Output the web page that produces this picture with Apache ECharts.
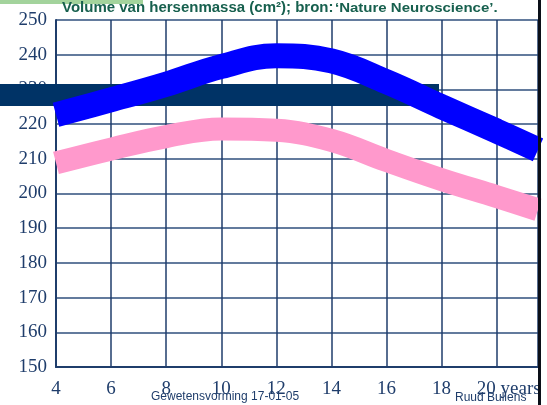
<!DOCTYPE html>
<html>
<head>
<meta charset="utf-8">
<script src="https://cdn.jsdelivr.net/npm/echarts@6/dist/echarts.min.js"></script>
<style>
  html, body { margin: 0; padding: 0; background: #fff; }
  #chart { width: 547px; height: 405px; }
</style>
</head>
<body>
<div id="chart"></div>
<script>
const ages = [4, 6, 8, 10, 12, 14, 16, 18, 20, 21.5];
const blueVolume = [222.7, 227.0, 231.5, 236.6, 239.7, 238.2, 232.2, 225.0, 218.0, 212.6];
const pinkVolume = [208.8, 212.8, 216.4, 218.6, 218.2, 215.3, 209.5, 204.0, 199.1, 195.3];
const yTicks = { min: 150, max: 250, step: 10 };
const xTicks = { min: 4, max: 21.5, step: 2 };

const navy = '#1f3d6b';
const serif = 'Liberation Serif, Times New Roman, serif';
const sans = 'Liberation Sans, Arial, sans-serif';

const chart = echarts.init(document.getElementById('chart'));

chart.setOption({
  animation: false,
  grid: { left: 56, right: 9, top: 20, bottom: 38 },
  xAxis: {
    type: 'value',
    min: xTicks.min,
    max: xTicks.max,
    interval: xTicks.step,
    axisLine: { lineStyle: { color: navy, width: 2 } },
    axisTick: { show: false },
    splitLine: { lineStyle: { color: navy, width: 1.5 } },
    axisLabel: {
      margin: 13,
      showMaxLabel: false,
      fontFamily: serif,
      fontSize: 19,
      color: navy,
      formatter: (v) => (v === 20 ? '{last|20 years}' : String(v)),
      rich: { last: { fontFamily: serif, fontSize: 19, color: navy, padding: [0, 0, 0, 24] } },
    },
  },
  yAxis: {
    type: 'value',
    min: yTicks.min,
    max: yTicks.max,
    interval: yTicks.step,
    axisLine: { show: true, lineStyle: { color: navy, width: 2 } },
    axisTick: { show: false },
    splitLine: { lineStyle: { color: '#2f4f7c', width: 1.6 } },
    axisLabel: { margin: 9, fontFamily: serif, fontSize: 19, color: navy },
  },
  series: [
    {
      type: 'line',
      data: ages.map((a, i) => [a, blueVolume[i]]),
      smooth: 0.4,
      symbol: 'none',
      clip: false,
      z: 4,
      lineStyle: { color: '#0000ff', width: 25, cap: 'butt' },
    },
    {
      type: 'line',
      data: ages.map((a, i) => [a, pinkVolume[i]]),
      smooth: 0.4,
      symbol: 'none',
      clip: false,
      z: 4,
      lineStyle: { color: '#ff99cc', width: 23, cap: 'butt' },
    },
  ],
  graphic: [
    { type: 'rect', z: 3, shape: { x: 0, y: 84, width: 439, height: 22 }, style: { fill: '#003366' } },
    { type: 'rect', z: 3, shape: { x: 0, y: 0, width: 143, height: 4 }, style: { fill: '#a3d39c' } },
    { type: 'rect', z: 5, shape: { x: 538, y: 0, width: 3, height: 405 }, style: { fill: '#0a0f18' } },
    {
      type: 'text', z: 5, left: 62, top: 0,
      style: { text: 'Volume van hersenmassa (cm²); bron:', font: 'bold 15px ' + sans, fill: '#17604e' },
    },
    {
      type: 'text', z: 5, x: 335, y: 3, scaleX: 1.25,
      style: { text: '‘Nature Neuroscience’.', font: 'bold 12px ' + sans, fill: '#17604e' },
    },
    {
      type: 'text', z: 5, left: 151, top: 391,
      style: { text: 'Gewetensvorming 17-01-05', font: '12px ' + sans, fill: navy },
    },
    {
      type: 'text', z: 5, left: 455, top: 392,
      style: { text: 'Ruud Bullens', font: '12px ' + sans, fill: navy },
    },
  ],
});
</script>
</body>
</html>
